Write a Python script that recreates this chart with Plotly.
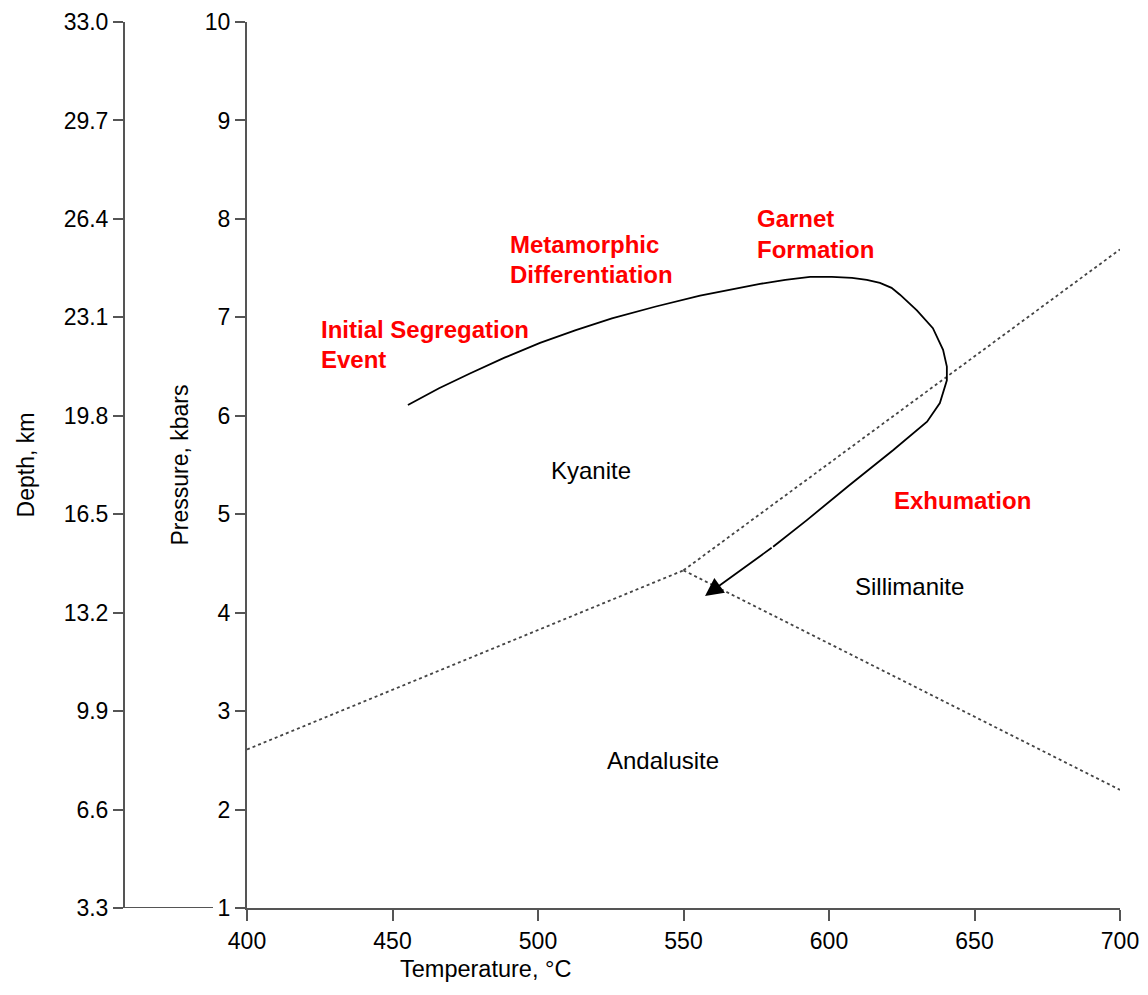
import plotly.graph_objects as go

# Al2SiO5 phase boundaries (temperature in °C, pressure in kbar)
ky_and_T = [400, 550]
ky_and_P = [2.61, 4.43]
ky_sil_T = [550, 700]
ky_sil_P = [4.43, 7.69]
and_sil_T = [550, 700]
and_sil_P = [4.43, 2.20]

# Pressure-temperature path; the final point is the arrow tip
path_T = [455.3, 466.0, 476.6, 488.5, 500.7, 513.0, 525.4, 540.5, 555.7, 566.0,
          576.3, 585.0, 593.5, 601.0, 607.9, 613.0, 617.5, 621.5, 624.4, 630.2,
          635.7, 639.2, 640.5, 640.5, 638.1, 633.7, 622.0, 607.2, 592.4, 580.8,
          557.4]
path_P = [6.11, 6.28, 6.43, 6.59, 6.74, 6.87, 6.99, 7.11, 7.22, 7.28,
          7.34, 7.38, 7.41, 7.41, 7.40, 7.38, 7.35, 7.30, 7.23, 7.07,
          6.89, 6.67, 6.50, 6.36, 6.13, 5.94, 5.65, 5.30, 4.94, 4.67,
          4.17]

# Axis ticks
temp_ticks = [400, 450, 500, 550, 600, 650, 700]
pressure_ticks = [1, 2, 3, 4, 5, 6, 7, 8, 9, 10]
depth_ticks = [3.3, 6.6, 9.9, 13.2, 16.5, 19.8, 23.1, 26.4, 29.7, 33.0]
depth_labels = ["%.1f" % d for d in depth_ticks]

# Stage labels along the path (left edge T, centre P)
stage_text = ["Initial Segregation", "Event", "Metamorphic", "Differentiation",
              "Garnet", "Formation", "Exhumation"]
stage_T = [424.7, 424.7, 489.7, 489.7, 574.6, 574.6, 621.6]
stage_P = [6.88, 6.57, 7.735, 7.44, 8.00, 7.69, 5.14]

# Mineral stability fields (centre positions)
field_text = ["Kyanite", "Sillimanite", "Andalusite"]
field_T = [518.2, 627.5, 543.0]
field_P = [5.44, 4.27, 2.50]

FONT = "Liberation Sans, Arial, Helvetica, sans-serif"
AXIS_COLOR = "#555555"
BOUNDARY = dict(color="#444444", width=1.8, dash="dot")

fig = go.Figure()

for T, P in [(ky_and_T, ky_and_P), (ky_sil_T, ky_sil_P), (and_sil_T, and_sil_P)]:
    fig.add_trace(go.Scatter(x=T, y=P, mode="lines", line=BOUNDARY,
                             hoverinfo="skip", showlegend=False))

# path up to the arrow tail; the last leg is drawn by the arrow annotation
fig.add_trace(go.Scatter(x=path_T[:-1], y=path_P[:-1], mode="lines",
                         line=dict(color="black", width=1.8),
                         hoverinfo="skip", showlegend=False))

# invisible carrier so the depth axis is rendered
fig.add_trace(go.Scatter(x=[temp_ticks[0]] * len(depth_ticks), y=depth_ticks,
                         yaxis="y2", mode="markers", marker=dict(opacity=0),
                         hoverinfo="skip", showlegend=False))

annotations = []
annotations.append(dict(x=path_T[-1], y=path_P[-1], ax=path_T[-2], ay=path_P[-2],
                        xref="x", yref="y", axref="x", ayref="y", text="",
                        showarrow=True, arrowhead=2, arrowsize=2.0, arrowwidth=1.8,
                        arrowcolor="black"))
for t, x, y in zip(stage_text, stage_T, stage_P):
    annotations.append(dict(x=x, y=y, xref="x", yref="y", text=t, showarrow=False,
                            xanchor="left", yanchor="middle",
                            font=dict(family=FONT, size=24, color="#ff0000", weight="bold")))
for t, x, y in zip(field_text, field_T, field_P):
    annotations.append(dict(x=x, y=y, xref="x", yref="y", text=t, showarrow=False,
                            xanchor="center", yanchor="middle",
                            font=dict(family=FONT, size=24, color="black")))
annotations.append(dict(x=482, y=0, xref="x", yref="paper", yshift=-61,
                        text="Temperature, °C", showarrow=False,
                        xanchor="center", yanchor="middle",
                        font=dict(family=FONT, size=23.5, color="black")))

L, R, T_M, B = 110, 28, 22, 87
W, H = 1148, 995
pw = W - L - R
x_start = (247 - L) / pw
depth_pos = (124 - L) / pw

fig.add_shape(type="line", xref="paper", yref="y", x0=depth_pos, x1=(213 - L) / pw,
              y0=pressure_ticks[0], y1=pressure_ticks[0],
              line=dict(color=AXIS_COLOR, width=2))

tickfont = dict(family=FONT, size=23, color="black")
titlefont = dict(family=FONT, size=23, color="black")
fig.update_layout(
    width=W, height=H,
    margin=dict(l=L, r=R, t=T_M, b=B, autoexpand=False),
    paper_bgcolor="white", plot_bgcolor="white",
    annotations=annotations,
    xaxis=dict(domain=[x_start, 1], range=[400, 700], tickvals=temp_ticks,
               showgrid=False, zeroline=False, showline=True, linecolor=AXIS_COLOR,
               linewidth=2, ticks="outside", ticklen=11, tickwidth=1.5,
               tickcolor=AXIS_COLOR, tickfont=tickfont, anchor="y", automargin=False),
    yaxis=dict(range=[1, 10], tickvals=pressure_ticks, showgrid=False, zeroline=False,
               showline=True, linecolor=AXIS_COLOR, linewidth=2, ticks="outside",
               ticklen=10, tickwidth=1.5, tickcolor=AXIS_COLOR, tickfont=tickfont,
               anchor="x", automargin=False,
               title=dict(text="Pressure, kbars", standoff=10, font=titlefont)),
    yaxis2=dict(range=[3.3, 33.0], tickvals=depth_ticks, ticktext=depth_labels,
                overlaying="y", anchor="free", position=depth_pos, side="left",
                showgrid=False, zeroline=False, showline=True, linecolor=AXIS_COLOR,
                linewidth=2, ticks="outside", ticklen=10, tickwidth=1.5,
                tickcolor=AXIS_COLOR, tickfont=tickfont, automargin=False,
                title=dict(text="Depth, km", standoff=22, font=titlefont)),
)

fig.write_html("out.html")
